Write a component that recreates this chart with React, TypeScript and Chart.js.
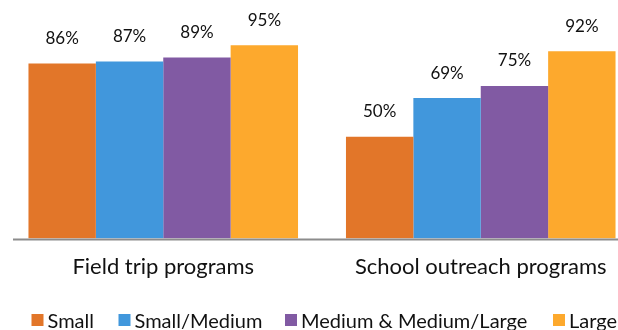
import React, { useEffect, useRef } from "react";
import { Chart, registerables } from "chart.js";

Chart.register(...registerables);

const categories = ["Field trip programs", "School outreach programs"];
const seriesNames = ["Small", "Small/Medium", "Medium & Medium/Large", "Large"];
const smallValues = [86, 50];
const smallMediumValues = [87, 69];
const mediumLargeValues = [89, 75];
const largeValues = [95, 92];
const seriesColors = ["#E27629", "#4197DC", "#815AA3", "#FDA92D"];

const FONT = "Lato, 'Noto Sans', sans-serif";

const valueLabelPlugin = {
  id: "valueLabels",
  afterDatasetsDraw(chart: any) {
    const ctx = chart.ctx;
    ctx.save();
    ctx.font = `17px ${FONT}`;
    ctx.fillStyle = "#111";
    ctx.textAlign = "center";
    ctx.textBaseline = "alphabetic";
    chart.data.datasets.forEach((ds: any, i: number) => {
      const meta = chart.getDatasetMeta(i);
      meta.data.forEach((el: any, j: number) => {
        ctx.fillText(`${ds.data[j]}%`, el.x, el.y - 19.5);
      });
    });
    ctx.restore();
  },
};

const axisLinePlugin = {
  id: "axisLine",
  afterDatasetsDraw(chart: any) {
    const ctx = chart.ctx;
    const y = chart.scales.y.getPixelForValue(0) + 1;
    ctx.save();
    ctx.strokeStyle = "#8C8C8C";
    ctx.lineWidth = 2;
    ctx.beginPath();
    ctx.moveTo(13, y);
    ctx.lineTo(chart.width, y);
    ctx.stroke();
    ctx.restore();
  },
};

const legendX = [31.5, 118.5, 285, 553];

const customLegendPlugin = {
  id: "customLegend",
  afterDraw(chart: any) {
    const ctx = chart.ctx;
    ctx.save();
    ctx.font = `20px ${FONT}`;
    ctx.textBaseline = "alphabetic";
    ctx.textAlign = "left";
    chart.data.datasets.forEach((ds: any, i: number) => {
      const x = legendX[i];
      ctx.fillStyle = ds.backgroundColor;
      ctx.fillRect(x, 314, 12, 12);
      ctx.fillStyle = "#111";
      ctx.fillText(ds.label, x + 16, 328);
    });
    ctx.restore();
  },
};

export default function App() {
  const canvasRef = useRef<HTMLCanvasElement | null>(null);

  useEffect(() => {
    if (!canvasRef.current) return;
    const valueSets = [smallValues, smallMediumValues, mediumLargeValues, largeValues];
    const chart = new Chart(canvasRef.current, {
      type: "bar",
      data: {
        labels: categories,
        datasets: seriesNames.map((name, i) => ({
          label: name,
          data: valueSets[i],
          backgroundColor: seriesColors[i],
          borderWidth: 0,
          barPercentage: 1,
          categoryPercentage: 0.849,
        })),
      },
      options: {
        responsive: false,
        animation: false,
        layout: { padding: { left: 4.5, right: 2.5, top: 35, bottom: 35 } },
        plugins: {
          legend: { display: false },
          tooltip: { enabled: false },
        },
        scales: {
          x: {
            grid: { display: false, drawTicks: false },
            border: { display: false },
            ticks: {
              color: "#111",
              font: { family: FONT, size: 22 },
              padding: 15,
              maxRotation: 0,
            },
          },
          y: {
            display: false,
            min: 0,
            max: 100,
          },
        },
      },
      plugins: [valueLabelPlugin, axisLinePlugin, customLegendPlugin],
    });
    return () => chart.destroy();
  }, []);

  return (
    <div
      style={{
        position: "fixed",
        left: 0,
        top: 0,
        width: 618,
        height: 330,
        overflow: "hidden",
        background: "#fff",
      }}
    >
      <canvas
        ref={canvasRef}
        width={642}
        height={330}
        style={{ display: "block", width: 642, height: 330 }}
      />
    </div>
  );
}
